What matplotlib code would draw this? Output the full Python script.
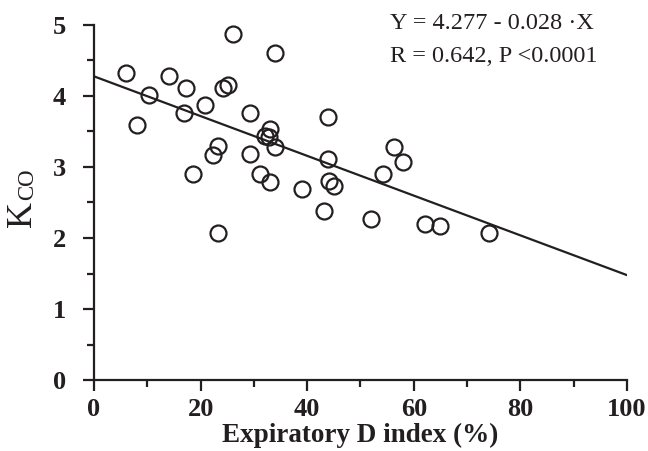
import numpy as np
import matplotlib.pyplot as plt
from matplotlib.ticker import MultipleLocator

# values
d_index = [6.0, 8.0, 10.4, 14.0, 17.3, 16.9, 18.6, 20.9, 22.4, 23.3, 23.3, 24.3,
           25.1, 26.0, 29.3, 29.3, 31.1, 33.0, 34.0, 33.0, 32.1, 32.8, 34.0, 44.0,
           44.0, 44.1, 45.0, 39.0, 43.2, 51.9, 56.2, 57.9, 54.2, 62.1, 64.9, 74.2]
kco = [4.32, 3.59, 4.01, 4.28, 4.11, 3.76, 2.90, 3.87, 3.17, 3.29, 2.07, 4.11,
       4.15, 4.87, 3.76, 3.18, 2.90, 2.79, 4.60, 3.54, 3.44, 3.42, 3.28, 3.70,
       3.11, 2.80, 2.73, 2.69, 2.38, 2.27, 3.28, 3.07, 2.90, 2.20, 2.17, 2.07]

intercept = 4.277
slope = -0.028
line_x = [0, 100]

ink = '#231f20'
plt.rcParams['font.family'] = ['Liberation Serif', 'DejaVu Serif']

fig = plt.figure(figsize=(6.48, 4.51), dpi=100)
ax = fig.add_axes([0.145, 0.1574, 0.8226, 0.7872])

ax.plot(d_index, kco, 'o', markersize=11.5, markerfacecolor='none',
        markeredgecolor=ink, markeredgewidth=1.6, clip_on=False)
ax.plot(line_x, [intercept + slope * x for x in line_x], color=ink, linewidth=1.6)

ax.set_xlim(0, 100)
ax.set_ylim(0, 5)
ax.xaxis.set_major_locator(MultipleLocator(20))
ax.xaxis.set_minor_locator(MultipleLocator(10))
ax.yaxis.set_major_locator(MultipleLocator(1))
ax.yaxis.set_minor_locator(MultipleLocator(0.5))

for side in ['top', 'right']:
    ax.spines[side].set_visible(False)
for side in ['left', 'bottom']:
    ax.spines[side].set_linewidth(1.6)
    ax.spines[side].set_color(ink)

ax.tick_params(which='major', length=8, width=1.6, color=ink, labelsize=19,
               labelcolor=ink)
ax.tick_params(which='minor', length=5, width=1.6, color=ink)
ax.tick_params(axis='y', pad=12)
ax.tick_params(axis='x', pad=5)
for lab in ax.get_xticklabels() + ax.get_yticklabels():
    lab.set_fontweight('bold')

ax.set_xlabel('Expiratory D index (%)', fontsize=19.5, fontweight='bold',
              color=ink, labelpad=1)

# y label: large K with smaller CO on the same baseline
fig.text(0.034, 0.525, 'K', rotation=90, fontsize=26, color=ink,
         ha='center', va='center')
fig.text(0.043, 0.592, 'CO', rotation=90, fontsize=16.5, color=ink,
         ha='center', va='center')

fig.text(0.602, 0.936, 'Y = 4.277 - 0.028 \u00b7X', fontsize=17.5, color=ink,
         ha='left', va='baseline')
fig.text(0.602, 0.862, 'R = 0.642, P <0.0001', fontsize=17.5, color=ink,
         ha='left', va='baseline')

fig.savefig('out.png', dpi=100)
